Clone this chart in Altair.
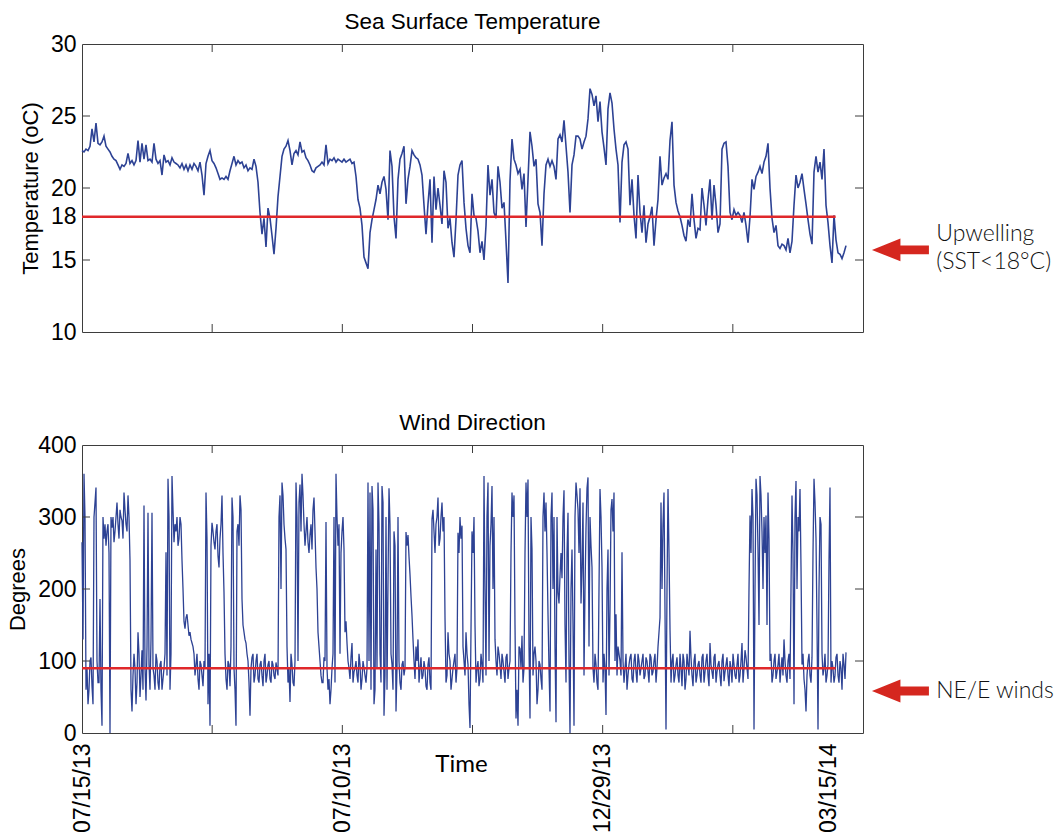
import altair as alt
import pandas as pd

# ---------------- data ----------------
STEP_DAYS = 0.6146          # sampling interval of the main series (days)
X_DOMAIN = [0, 240]
X_TICK_DAYS = [0, 40, 80, 120, 160, 200, 240]
X_LABEL_DAYS = [0, 80, 160, 229.5]
X_LABELS = ["07/15/13", "07/10/13", "12/29/13", "03/15/14"]

SST_DOMAIN = [10, 30]
SST_TICKS = [10, 15, 18, 20, 25, 30]
SST_INNER_TICKS = [15, 20, 25]
WIND_DOMAIN = [0, 400]
WIND_TICKS = [0, 100, 200, 300, 400]
WIND_INNER_TICKS = [100, 200, 300]

SST_THRESHOLD = 18
WIND_THRESHOLD = 90
THRESHOLD_END_DAY = 231.6

sst_part1 = [22.6, 22.5, 22.7, 22.6, 22.9, 24.1, 23.2, 24.5, 23.1, 23.0,
             23.2, 23.6, 22.9, 22.7, 22.5, 22.2, 22.0, 21.9, 21.6, 21.3,
             21.6, 21.5, 21.7, 22.4, 21.7, 21.9, 21.6, 21.9, 23.3, 21.8,
             23.1, 22.0, 23.0, 21.9, 22.0, 21.8, 23.1, 22.0, 21.7, 21.9,
             20.9, 22.3, 21.8, 21.9, 21.6, 22.1, 21.8, 21.7, 21.6, 21.4,
             21.7, 21.3, 21.6, 21.2, 21.6, 21.3, 21.7, 21.5, 21.2, 21.8,
             20.9, 19.5, 21.7, 22.2, 22.6, 21.9, 21.7, 21.4, 21.0, 20.6,
             20.7, 20.6, 20.8, 20.6, 21.2, 21.7, 22.2, 21.6, 21.9, 21.7,
             21.8, 21.4, 21.6, 21.2, 21.4, 21.3, 22.0, 21.5, 20.4, 18.3,
             16.8, 17.9, 15.9, 18.6, 17.9, 16.7, 15.4, 17.2]
sst_part2 = [19.4, 20.8, 22.2, 22.7, 22.9, 23.3, 22.6, 21.6, 22.4, 22.6,
             22.3, 23.2, 22.5, 22.6, 22.1, 21.9, 21.6, 21.2, 21.1, 21.4,
             21.5, 21.6, 21.8, 21.6, 23.0, 21.7, 22.0, 21.9, 22.1, 21.8,
             22.0, 21.9, 21.8, 22.0, 21.8, 21.9, 22.0, 21.7, 21.8, 20.8,
             19.2, 18.6, 17.4, 15.2, 14.8, 14.4, 16.9, 17.8, 18.5, 19.2,
             20.2, 19.6, 20.4, 20.8, 19.9, 17.8, 22.6, 21.5, 18.0, 16.5,
             20.6, 22.0, 22.4, 22.9, 18.9, 20.6, 21.5, 22.6, 22.3, 22.1,
             22.0, 21.6, 20.9, 18.8, 16.8, 18.9, 20.6, 16.2, 20.8, 18.5,
             20.0, 18.8, 17.5, 21.2, 20.4, 17.2, 17.9, 16.2, 15.2, 17.8,
             20.9, 21.6, 21.9, 19.0, 17.2, 16.0, 15.5]
sst_part3 = [19.6, 18.1, 17.9, 17.0, 15.5, 16.3, 15.0, 17.4, 21.6, 19.5,
             20.6, 18.3, 17.9, 21.5, 20.4, 18.6, 19.0, 16.3, 13.4, 20.5,
             23.4, 22.0, 21.6, 21.0, 21.3, 19.9, 21.0, 17.3, 20.6, 23.9,
             22.9, 21.5, 22.0, 18.9, 18.3, 16.0, 19.6, 21.6, 22.0, 21.5,
             21.9, 21.5, 20.6, 23.4, 23.7, 23.2, 24.7, 22.9, 21.1, 18.3,
             21.6, 22.3, 23.6, 23.6, 23.4, 22.7, 23.2, 23.6, 24.8, 26.9,
             26.5, 25.7, 26.4, 24.6, 26.0, 23.9, 22.8, 21.6, 25.5, 26.6,
             25.9, 24.1, 22.7, 21.6, 17.6, 21.8, 23.0, 23.2, 22.7, 18.8,
             20.6, 18.1, 16.5, 20.9, 18.3, 16.9, 18.8, 16.2, 17.5, 18.0,
             18.7, 16.0, 17.8, 19.2, 22.2, 20.2, 20.7]
sst_part4 = [21.0, 20.6, 23.3, 24.6, 20.2, 19.0, 18.4, 18.0, 17.4, 16.7,
             16.3, 17.8, 17.3, 19.6, 17.8, 16.5, 17.2, 17.1, 20.0, 18.8,
             17.4, 19.2, 20.6, 17.8, 20.2, 18.8, 16.9, 17.5, 22.7, 23.1,
             23.2, 21.5, 18.3, 17.8, 18.5, 18.1, 18.3, 18.1, 17.6, 18.3,
             17.4, 16.2, 18.0, 20.6, 19.9, 20.8, 21.1, 21.5, 21.0, 21.8,
             22.2, 23.1, 20.0, 17.9, 16.9, 17.4, 16.0, 15.8, 16.1, 16.0,
             15.7, 16.5, 15.5, 16.3, 18.8, 20.9, 20.0, 20.4, 21.0, 19.9,
             18.9, 17.8, 16.8, 16.1, 21.1, 22.2, 21.1, 21.8, 20.6, 22.7,
             18.8, 17.6, 16.0, 14.8, 18.1, 16.4, 15.5, 15.4, 15.1, 15.5,
             16.0]

# wind direction, main samples
wind_part1 = [265, 360, 60, 40, 100, 65, 300, 341, 70, 186,
              10, 270, 260, 290, 0, 285, 265, 300, 290, 310,
              295, 334, 290, 330, 240, 30, 110, 40, 140, 50,
              115, 316, 45, 306, 60, 306, 80, 110, 70, 95,
              60, 90, 251, 353, 60, 357, 265, 280, 260, 300,
              240, 155, 160, 150, 140, 125, 110, 95, 75, 100,
              80, 100, 334, 40, 10, 292, 265, 280, 246, 270,
              330, 195, 75, 100, 65, 327, 90, 10, 290, 330,
              186, 140, 125, 100, 24, 105, 70, 100, 75, 95,
              80, 100, 70, 95, 75, 100, 80, 98]
wind_part2 = [80, 330, 348, 290, 255, 70, 43, 95, 65, 348,
              100, 345, 360, 290, 280, 265, 275, 255, 327, 230,
              140, 100, 70, 105, 293, 60, 40, 90, 300, 360,
              260, 110, 280, 255, 155, 100, 75, 125, 85, 100,
              70, 95, 75, 90, 70, 348, 334, 343, 40, 255,
              348, 110, 343, 24, 300, 210, 290, 95, 280, 30,
              300, 70, 95, 80, 279, 275, 220, 163, 100, 120,
              130, 90, 75, 100, 65, 95, 70, 297, 280, 290,
              327, 270, 320, 300, 70, 140, 100, 75, 100, 70,
              278, 300, 288, 100, 140, 95, 7]
wind_part3 = [280, 300, 70, 100, 75, 95, 357, 80, 348, 260,
              343, 300, 100, 120, 95, 110, 85, 105, 75, 100,
              334, 330, 20, 10, 117, 135, 90, 348, 352, 20,
              255, 110, 100, 60, 95, 60, 334, 320, 165, 30,
              334, 300, 15, 195, 218, 215, 337, 70, 306, 0,
              255, 10, 348, 310, 340, 230, 80, 285, 355, 300,
              230, 70, 95, 60, 339, 230, 110, 25, 255, 170,
              325, 334, 165, 120, 100, 251, 70, 110, 80, 105,
              75, 100, 85, 110, 80, 100, 75, 105, 85, 110,
              80, 100, 70, 120, 160, 200, 334]
wind_part4 = [5, 339, 144, 100, 70, 95, 80, 110, 65, 100,
              75, 95, 142, 80, 100, 70, 95, 80, 105, 70,
              100, 80, 125, 85, 105, 70, 95, 80, 100, 72,
              95, 80, 100, 70, 95, 75, 110, 80, 125, 90,
              105, 75, 302, 339, 5, 353, 255, 357, 280, 300,
              302, 334, 100, 70, 100, 75, 95, 70, 105, 130,
              80, 100, 75, 330, 40, 350, 300, 339, 95, 75,
              30, 100, 80, 105, 353, 270, 5, 300, 110, 90,
              70, 95, 341, 100, 70, 105, 80, 100, 60, 95,
              112]

# wind direction, in-between samples (half a step after each main sample)
wind_mid1 = [130, 300, 90, 60, 105, 40, 320, 100, 70, 60,
             300, 290, 280, 250, 300, 300, 280, 320, 270, 300,
             270, 310, 280, 300, 60, 80, 90, 70, 110, 80,
             60, 90, 120, 95, 130, 90, 60, 100, 60, 100,
             75, 110, 80, 300, 110, 310, 290, 300, 270, 290,
             200, 145, 165, 135, 130, 120, 80, 110, 60, 95,
             65, 90, 270, 110, 260, 280, 255, 290, 230, 290,
             250, 110, 60, 95, 120, 300, 60, 280, 260, 310,
             150, 130, 110, 70, 90, 110, 80, 110, 70, 100,
             65, 110, 80, 100, 70, 95, 75]
wind_mid2 = [300, 200, 330, 270, 120, 90, 110, 70, 100, 300,
             320, 280, 330, 260, 300, 250, 290, 310, 280, 200,
             120, 80, 70, 100, 90, 75, 60, 110, 70, 300,
             290, 250, 300, 140, 125, 90, 105, 70, 90, 80,
             110, 60, 100, 80, 90, 100, 60, 310, 60, 90,
             290, 70, 320, 80, 60, 340, 110, 60, 260, 90,
             100, 60, 100, 90, 260, 245, 190, 130, 75, 100,
             70, 105, 80, 90, 60, 105, 60, 310, 250, 300,
             260, 300, 280, 160, 80, 110, 60, 90, 110, 90,
             250, 270, 120, 80, 110, 40]
wind_mid3 = [250, 150, 90, 65, 110, 70, 200, 300, 100, 290,
             200, 130, 80, 110, 75, 100, 70, 110, 90, 250,
             300, 150, 60, 120, 90, 70, 250, 300, 120, 300,
             80, 120, 40, 100, 75, 300, 280, 250, 90, 300,
             200, 120, 300, 180, 250, 300, 150, 250, 100, 200,
             150, 300, 330, 250, 180, 320, 200, 340, 120, 260,
             90, 110, 70, 200, 300, 70, 90, 200, 80, 310,
             280, 100, 80, 110, 80, 100, 90, 60, 95, 110,
             70, 110, 70, 100, 90, 110, 80, 100, 70, 105,
             85, 110, 90, 140, 320, 290]
wind_mid4 = [200, 250, 70, 110, 80, 105, 70, 90, 110, 60,
             110, 80, 105, 65, 110, 80, 100, 70, 110, 85,
             110, 65, 95, 75, 110, 85, 100, 65, 110, 85,
             105, 65, 90, 110, 80, 95, 70, 100, 70, 115,
             90, 200, 250, 300, 200, 330, 150, 330, 200, 250,
             150, 270, 110, 80, 110, 85, 110, 90, 80, 100,
             70, 110, 200, 250, 300, 200, 280, 230, 110, 60,
             80, 110, 70, 250, 320, 150, 200, 290, 80, 110,
             80, 240, 70, 90, 80, 110, 70, 90, 110, 75]

# annotations (data coordinates)
ARROW_X = 251.5
NOTE_X = 262.5
SST_ARROW_Y = 15.7
SST_NOTES = ["Upwelling", "(SST<18°C)"]
SST_NOTE_Y = [16.8, 14.85]
WIND_ARROW_Y = 58.3
WIND_NOTES = ["NE/E winds"]
WIND_NOTE_Y = [58.3]

# ---------------- styling ----------------
BLUE = "#2d4294"
RED = "#e0282b"
ARROW_RED = "#d5271f"
FRAME = "#3d3d3d"
SANS = "Liberation Sans"
NOTE_FONT = "Lato"
PLOT_W, PLOT_H = 781, 288
TICK_PX = 8
ARROW_PATH = "M -1 0 L 0 -0.4 L 0 -0.155 L 1 -0.155 L 1 0.155 L 0 0.155 L 0 0.4 Z"
ARROW_SIZE = 57 * 57

# ---------------- tables ----------------
sst = sst_part1 + sst_part2 + sst_part3 + sst_part4
sst_df = pd.DataFrame({"day": [i * STEP_DAYS for i in range(len(sst))], "value": sst})

wind_rows = []
start = 0
for main, mid in [(wind_part1, wind_mid1), (wind_part2, wind_mid2),
                  (wind_part3, wind_mid3), (wind_part4, wind_mid4)]:
    for j, v in enumerate(main):
        wind_rows.append(((start + j) * STEP_DAYS, v))
    for j, v in enumerate(mid[:len(main)]):
        wind_rows.append(((start + j + 0.5) * STEP_DAYS, v))
    start += len(main)
wind_df = pd.DataFrame(sorted(wind_rows), columns=["day", "value"])

label_expr = " : ".join(
    f"datum.value == {d} ? '{t}'" for d, t in zip(X_LABEL_DAYS, X_LABELS)
) + " : ''"


def inner_ticks(y_dom, y_ticks):
    xl = TICK_PX * (X_DOMAIN[1] - X_DOMAIN[0]) / PLOT_W
    yl = TICK_PX * (y_dom[1] - y_dom[0]) / PLOT_H
    rows = []
    for d in X_TICK_DAYS[1:-1]:
        rows.append(dict(day=d, day2=d, value=y_dom[0], value2=y_dom[0] + yl))
        rows.append(dict(day=d, day2=d, value=y_dom[1], value2=y_dom[1] - yl))
    for v in y_ticks:
        rows.append(dict(day=X_DOMAIN[0], day2=X_DOMAIN[0] + xl, value=v, value2=v))
        rows.append(dict(day=X_DOMAIN[1], day2=X_DOMAIN[1] - xl, value=v, value2=v))
    return pd.DataFrame(rows)


def panel(df, y_dom, y_ticks, inner, y_title, title, thr, arrow_y, notes, note_y,
          bottom, line_w):
    xs = alt.Scale(domain=X_DOMAIN, nice=False, zero=False)
    ys = alt.Scale(domain=y_dom, nice=False, zero=False)
    if bottom:
        xaxis = alt.Axis(values=X_LABEL_DAYS, labelExpr=label_expr, labelAngle=-90,
                         labelAlign="right", labelBaseline="middle", labelPadding=10,
                         labelFlush=False, labelOverlap=False, ticks=False, domain=False,
                         grid=False, title="Time", titleFont=NOTE_FONT, titleFontSize=24,
                         titleFontWeight="normal", titleX=379, titleY=31,
                         titleAlign="center", titleBaseline="middle")
    else:
        xaxis = None
    yaxis = alt.Axis(values=y_ticks, ticks=False, domain=False, grid=False,
                     labelPadding=6, title=y_title, titlePadding=8)

    def X(field):
        return alt.X(field, scale=xs, axis=xaxis)

    def Y(field):
        return alt.Y(field, scale=ys, axis=yaxis)

    line = alt.Chart(df).mark_line(color=BLUE, strokeWidth=line_w).encode(
        x=X("day:Q"), y=Y("value:Q"),
    )
    thr_df = pd.DataFrame({"day": [X_DOMAIN[0]], "day2": [THRESHOLD_END_DAY], "value": [thr]})
    thr_rule = alt.Chart(thr_df).mark_rule(color=RED, strokeWidth=2.5).encode(
        x=X("day:Q"), x2="day2:Q", y=Y("value:Q"),
    )
    ticks = alt.Chart(inner_ticks(y_dom, inner)).mark_rule(color=FRAME, strokeWidth=1).encode(
        x=X("day:Q"), x2="day2:Q", y=Y("value:Q"), y2="value2:Q",
    )
    arrow = alt.Chart(pd.DataFrame({"day": [ARROW_X], "value": [arrow_y]})).mark_point(
        shape=ARROW_PATH, size=ARROW_SIZE, filled=True, color=ARROW_RED, opacity=1,
        strokeWidth=0,
    ).encode(x=X("day:Q"), y=Y("value:Q"))
    note_df = pd.DataFrame({"day": [NOTE_X] * len(notes), "value": note_y, "t": notes})
    note = alt.Chart(note_df).mark_text(
        align="left", baseline="middle", font=NOTE_FONT, fontSize=23, fontWeight=300,
        color="#111111",
    ).encode(x=X("day:Q"), y=Y("value:Q"), text="t:N")
    return alt.layer(line, thr_rule, ticks, arrow, note).properties(
        width=PLOT_W, height=PLOT_H,
        title=alt.TitleParams(title, fontSize=22.5, font=SANS, fontWeight="normal",
                              color="black", offset=-18, baseline="alphabetic",
                              anchor="middle"),
    )


top = panel(sst_df, SST_DOMAIN, SST_TICKS, SST_INNER_TICKS, "Temperature (oC)",
            "Sea Surface Temperature", SST_THRESHOLD, SST_ARROW_Y, SST_NOTES, SST_NOTE_Y,
            False, 1.6)
bot = panel(wind_df, WIND_DOMAIN, WIND_TICKS, WIND_INNER_TICKS, "Degrees",
            "Wind Direction", WIND_THRESHOLD, WIND_ARROW_Y, WIND_NOTES, WIND_NOTE_Y,
            True, 1.3)

chart = alt.vconcat(top, bot, spacing=66).properties(
    padding={"left": 6, "top": 10, "right": 0, "bottom": 0},
    background="white",
).configure_view(stroke=FRAME, strokeWidth=1).configure_axis(
    labelFont=SANS, labelFontSize=23, labelColor="black",
    titleFont=SANS, titleFontSize=22, titleFontWeight="normal", titleColor="black",
)

chart.save("out.html", embed_options={"renderer": "svg", "actions": False})
